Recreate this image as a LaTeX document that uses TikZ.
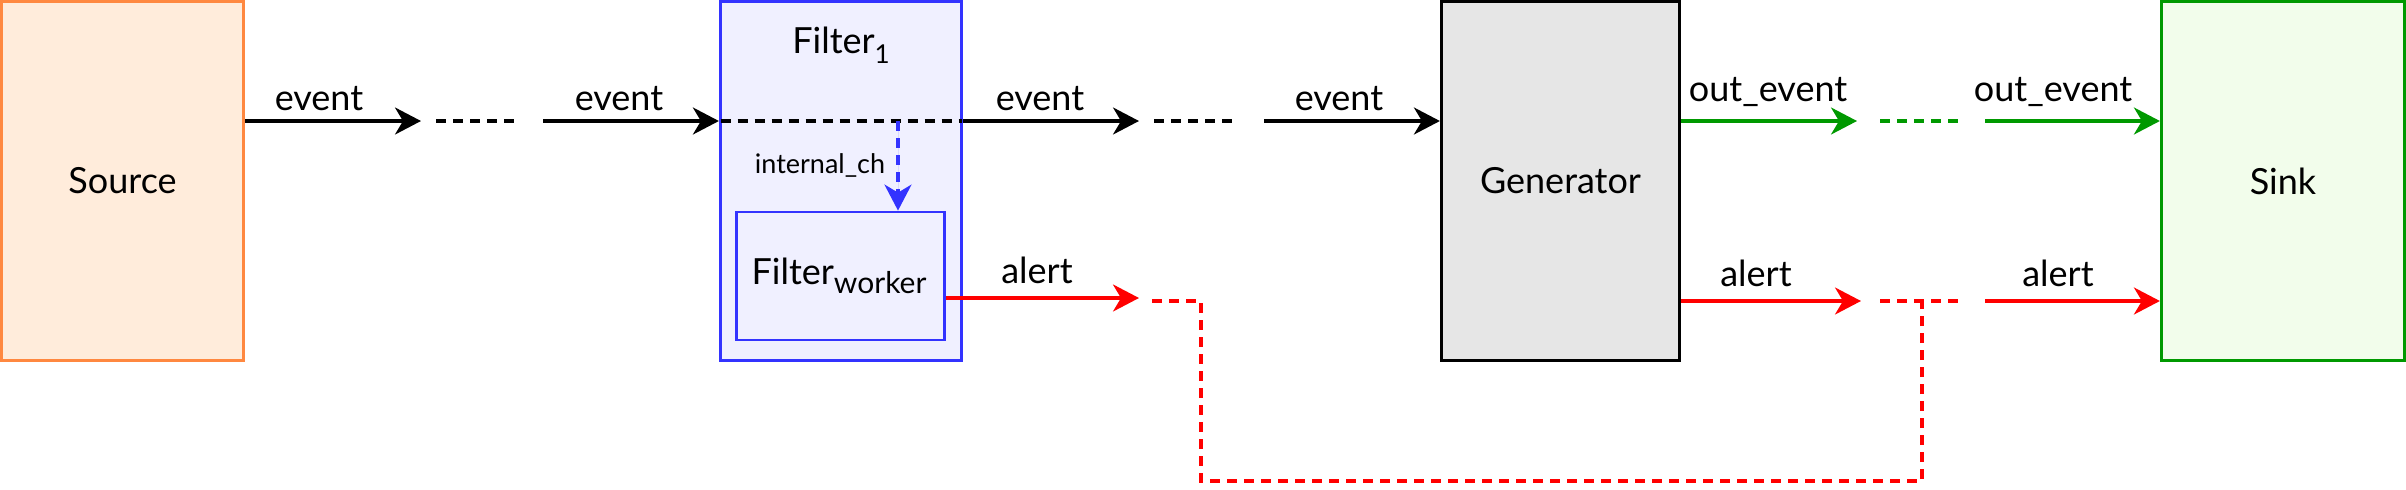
\documentclass[tikz,border=0pt]{standalone}
\usepackage{fontspec}
\setmainfont{Lato}
\usetikzlibrary{arrows.meta}
\definecolor{srcfill}{RGB}{255,236,219}
\definecolor{srcdraw}{RGB}{255,136,64}
\definecolor{filfill}{RGB}{240,240,255}
\definecolor{fildraw}{RGB}{51,51,255}
\definecolor{genfill}{RGB}{230,230,230}
\definecolor{sinkfill}{RGB}{242,253,235}
\definecolor{sinkdraw}{RGB}{0,153,0}
\definecolor{grn}{RGB}{0,153,0}
\definecolor{rd}{RGB}{255,0,0}
\tikzset{
  box/.style={draw, line width=1.6pt, minimum height=179.5pt, inner sep=0pt, font=\fontsize{18}{21}\selectfont},
  arr/.style={line width=1.6pt, -{Stealth[length=13pt,width=13.5pt,inset=4pt]}},
  dsh/.style={line width=1.6pt, dash pattern=on 5pt off 3.5pt},
  lbl/.style={inner sep=0pt, anchor=base, font=\fontsize{18}{21}\selectfont},
  small/.style={inner sep=0pt, anchor=base, font=\fontsize{13.5}{16}\selectfont},
}
\begin{document}
\begin{tikzpicture}[x=0.5pt,y=-0.5pt]
\useasboundingbox (0,0) rectangle (2406,489);
% boxes
\node[box, fill=srcfill, draw=srcdraw, minimum width=121pt] (src) at (122.5,181) {Source};
\node[box, fill=filfill, draw=fildraw, minimum width=120.5pt] (fil) at (841,181) {};
\node[box, fill=filfill, draw=fildraw, minimum width=104pt, minimum height=64pt, line width=1.4pt] (wrk) at (840.5,276) {};
\node[box, fill=genfill, draw=black, minimum width=119pt] (gen) at (1560.5,181) {Generator};
\node[box, fill=sinkfill, draw=sinkdraw, minimum width=121.5pt] (sink) at (2283,181) {Sink};
\node[lbl] (filT) at (841,53) {Filter\raisebox{-5pt}{\fontsize{13}{15}\selectfont 1}};
\node[lbl] (wrkT) at (839,284) {Filter\raisebox{-4.5pt}{\fontsize{15}{17}\selectfont worker}};
% coordinates
\coordinate (e1) at (421,121);
\coordinate (d1a) at (436,121); \coordinate (d1b) at (518,121);
\coordinate (e2) at (543,121);
\coordinate (fin) at (720.5,121);
\coordinate (fout) at (961.5,121);
\coordinate (split) at (898,121);
\coordinate (e3) at (1139,121);
\coordinate (d2a) at (1154,121); \coordinate (d2b) at (1236,121);
\coordinate (e4) at (1264,121);
\coordinate (g1) at (1857,121);
\coordinate (d3a) at (1880,121); \coordinate (d3b) at (1960,121);
\coordinate (g2) at (1985,121);
\coordinate (a1) at (1139,298);
\coordinate (r1) at (1152,301);
\coordinate (r1c) at (1201,301);
\coordinate (a2) at (1861,301);
\coordinate (d4a) at (1880,301); \coordinate (d4b) at (1960,301);
\coordinate (rj) at (1922,301);
\coordinate (a3) at (1985,301);
\coordinate (lowY) at (0,481);
% event row
\draw[arr] (src.east |- e1) -- (e1);
\draw[dsh] (d1a) -- (d1b);
\draw[arr] (e2) -- (fil.west |- e2);
\draw[dsh] (fin) -- (fout);
\draw[arr] (fil.east |- e3) -- (e3);
\draw[dsh] (d2a) -- (d2b);
\draw[arr] (e4) -- (gen.west |- e4);
\draw[dsh, draw=fildraw, fill=fildraw, -{Stealth[length=13pt,width=13.5pt,inset=4pt]}] (split) -- (split |- wrk.north);
% green
\draw[arr, draw=grn, fill=grn] (gen.east |- g1) -- (g1);
\draw[dsh, draw=grn] (d3a) -- (d3b);
\draw[arr, draw=grn, fill=grn] (g2) -- (sink.west |- g2);
% red
\draw[arr, draw=rd, fill=rd] (wrk.east |- a1) -- (a1);
\draw[dsh, draw=rd] (r1) -- (r1c) -- (r1c |- lowY) -- (rj |- lowY) -- (rj);
\draw[arr, draw=rd, fill=rd] (gen.east |- a2) -- (a2);
\draw[dsh, draw=rd] (d4a) -- (d4b);
\draw[arr, draw=rd, fill=rd] (a3) -- (sink.west |- a3);
% labels
\node[lbl] (l1) at (319,110) {event};
\node[lbl] (l2) at (619,110) {event};
\node[lbl] (l3) at (1040,110) {event};
\node[lbl] (l4) at (1339,110) {event};
\node[lbl] (l5) at (1768,101) {out\_event};
\node[lbl] (l6) at (2053,101) {out\_event};
\node[lbl] (l7) at (1037,283) {alert};
\node[lbl] (l8) at (1756,286) {alert};
\node[lbl] (l9) at (2058,286) {alert};
\node[small] (ich) at (820,173) {internal\_ch};
\end{tikzpicture}
\end{document}
